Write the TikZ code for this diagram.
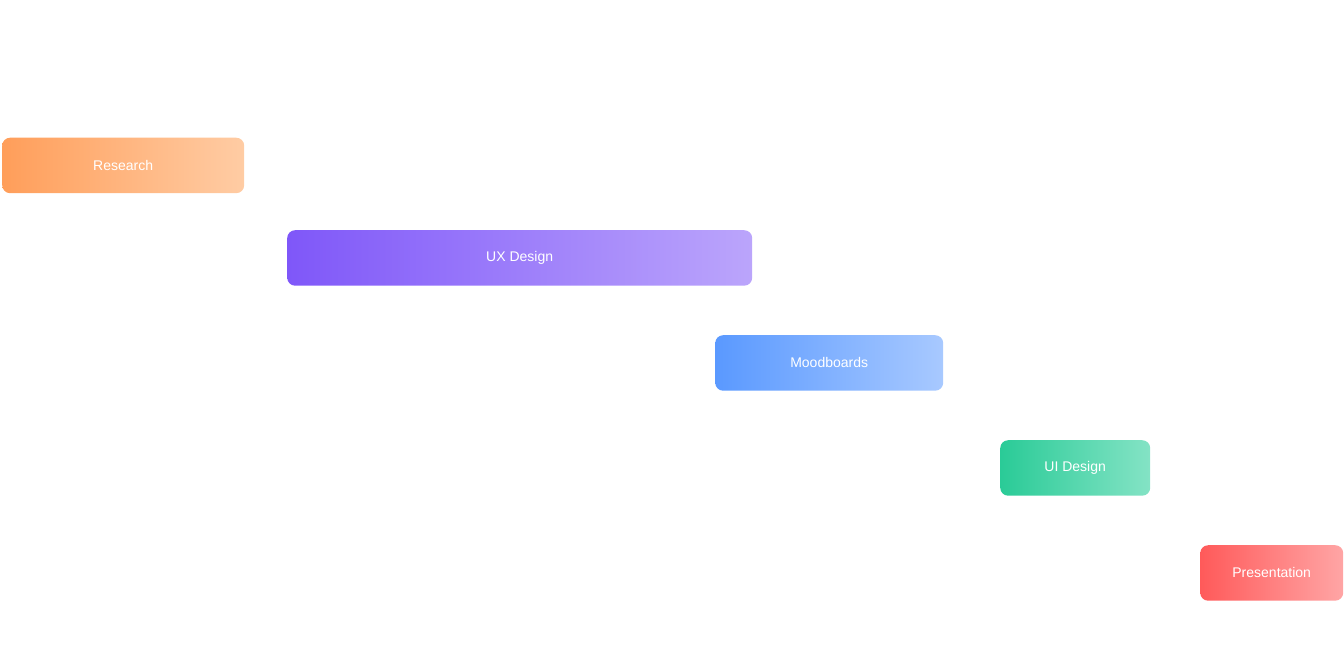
\documentclass[tikz,border=0pt]{standalone}
\usepackage{fontspec}
\setmainfont{Liberation Sans}
\definecolor{orA}{HTML}{FF9E5A}\definecolor{orB}{HTML}{FFCCA4}
\definecolor{puA}{HTML}{7F57F9}\definecolor{puB}{HTML}{BBA5FB}
\definecolor{blA}{HTML}{5A99FF}\definecolor{blB}{HTML}{A8C9FF}
\definecolor{grA}{HTML}{2ACB97}\definecolor{grB}{HTML}{84E3C5}
\definecolor{reA}{HTML}{FF5A5A}\definecolor{reB}{HTML}{FFA5A5}
\begin{document}
\begin{tikzpicture}[x=1pt,y=-1pt,
  bar/.style={rectangle, rounded corners=8pt, inner sep=0pt, draw=none,
    text=white, font=\fontsize{14}{16}\selectfont, anchor=north west,
    minimum height=55.5pt}]
\useasboundingbox (0,0) rectangle (1344,648);
\node[bar, left color=orA, right color=orB, minimum width=242pt] (research) at (2,137.5) {Research};
\node[bar, left color=puA, right color=puB, minimum width=465pt] (ux) at (287,230) {UX Design};
\node[bar, left color=blA, right color=blB, minimum width=228pt] (mood) at (715,335) {Moodboards};
\node[bar, left color=grA, right color=grB, minimum width=150pt] (ui) at (1000,440) {UI Design};
\node[bar, left color=reA, right color=reB, minimum width=143pt] (pres) at (1200,545) {Presentation};
\end{tikzpicture}
\end{document}
